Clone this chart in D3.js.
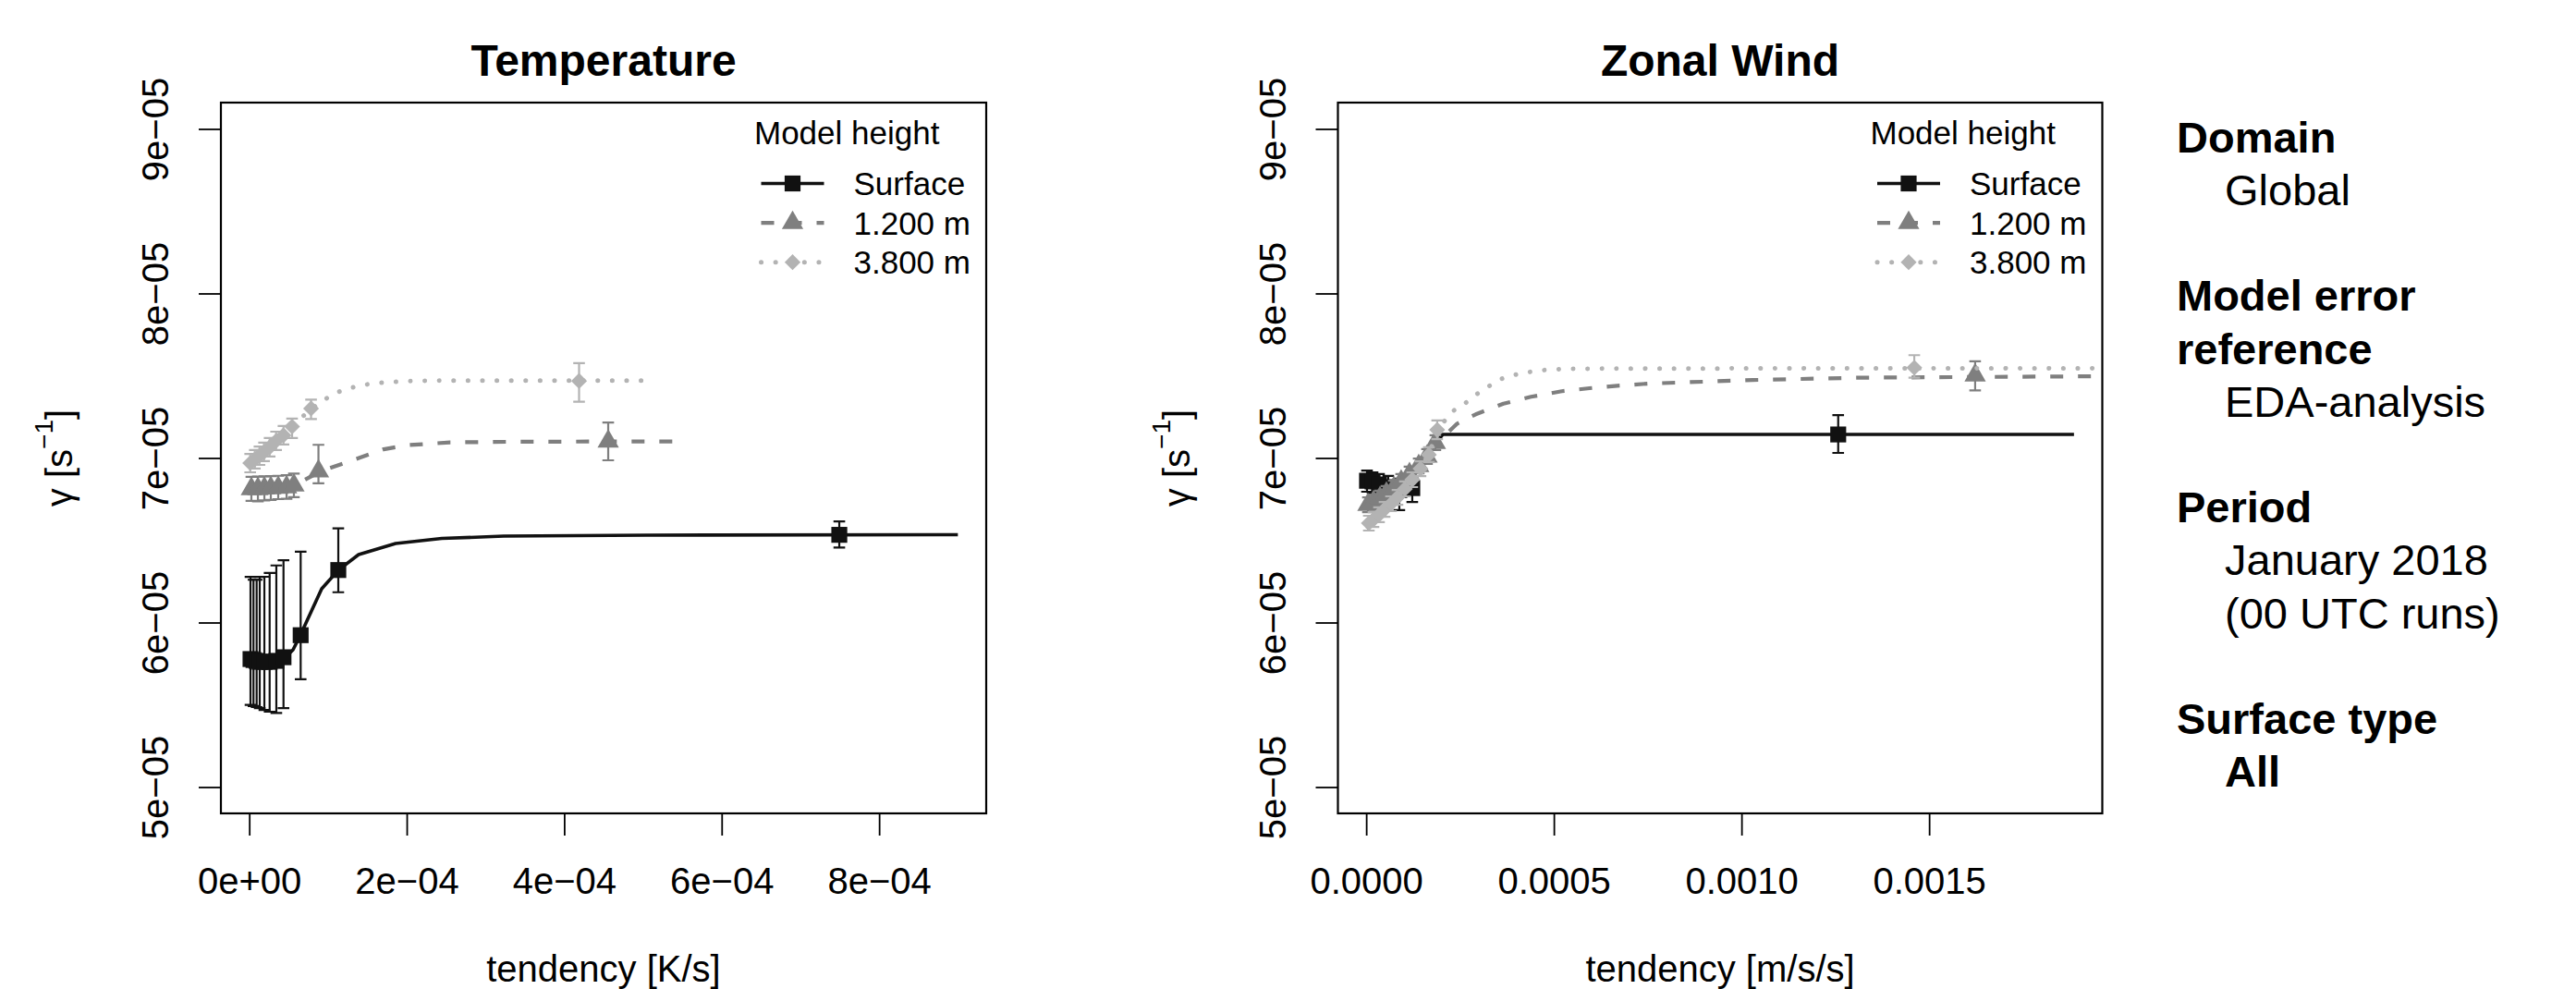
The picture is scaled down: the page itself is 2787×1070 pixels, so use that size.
<!DOCTYPE html>
<html><head><meta charset="utf-8">
<script src="https://cdn.jsdelivr.net/npm/d3@7"></script>
<style>
html,body{margin:0;padding:0;background:#fff;}
svg{display:block;font-family:"Liberation Sans",Arial,Helvetica,sans-serif;}
</style></head><body>
<svg id="chart" width="2787" height="1070"></svg>
<script>
// ---------- axis limits and tick labels ----------
const yLim = [5e-5, 9e-5];
const yTicks = [5e-5, 6e-5, 7e-5, 8e-5, 9e-5];
const yTickLabels = ["5e\u221205", "6e\u221205", "7e\u221205", "8e\u221205", "9e\u221205"];

const tempXLim = [0, 9.0e-4];
const tempXTicks = [0, 2e-4, 4e-4, 6e-4, 8e-4];
const tempXTickLabels = ["0e+00", "2e\u221204", "4e\u221204", "6e\u221204", "8e\u221204"];

const windXLim = [0, 1.886e-3];
const windXTicks = [0, 0.0005, 0.0010, 0.0015];
const windXTickLabels = ["0.0000", "0.0005", "0.0010", "0.0015"];

const heightNames = ["Surface", "1.200 m", "3.800 m"];

// ---------- Temperature: Surface ----------
const tSurfX  = [1.6e-6, 5.4e-6, 9.4e-6, 1.33e-5, 1.92e-5, 2.59e-5, 3.44e-5, 4.35e-5, 6.53e-5, 1.131e-4, 7.494e-4];
const tSurfY  = [5.778e-5, 5.772e-5, 5.767e-5, 5.761e-5, 5.761e-5, 5.761e-5, 5.767e-5, 5.789e-5, 5.923e-5, 6.319e-5, 6.533e-5];
const tSurfLo = [5.499e-5, 5.492e-5, 5.486e-5, 5.480e-5, 5.469e-5, 5.458e-5, 5.450e-5, 5.480e-5, 5.655e-5, 6.184e-5, 6.456e-5];
const tSurfHi = [6.277e-5, 6.260e-5, 6.260e-5, 6.277e-5, 6.278e-5, 6.301e-5, 6.347e-5, 6.379e-5, 6.430e-5, 6.572e-5, 6.614e-5];
const tSurfFitX = [1.6e-6, 4.62e-5, 5.56e-5, 6.5e-5, 9.2e-5, 1.131e-4, 1.389e-4, 1.859e-4, 2.446e-4, 3.232e-4, 5.052e-4, 9.0e-4];
const tSurfFitY = [5.773e-5, 5.789e-5, 5.834e-5, 5.924e-5, 6.205e-5, 6.318e-5, 6.413e-5, 6.480e-5, 6.511e-5, 6.525e-5, 6.531e-5, 6.534e-5];

// ---------- Temperature: 1.200 m ----------
const t12X  = [2.7e-6, 1.10e-5, 1.92e-5, 2.74e-5, 3.68e-5, 4.74e-5, 5.67e-5, 8.79e-5, 4.559e-4];
const t12Y  = [6.812e-5, 6.812e-5, 6.815e-5, 6.817e-5, 6.820e-5, 6.823e-5, 6.834e-5, 6.919e-5, 7.101e-5];
const t12Lo = [6.739e-5, 6.736e-5, 6.742e-5, 6.745e-5, 6.750e-5, 6.752e-5, 6.762e-5, 6.846e-5, 6.986e-5];
const t12Hi = [6.885e-5, 6.887e-5, 6.888e-5, 6.890e-5, 6.892e-5, 6.895e-5, 6.905e-5, 7.080e-5, 7.216e-5];
const t12FitX = [2.7e-6, 5.67e-5, 8.84e-5, 1.002e-4, 1.401e-4, 1.706e-4, 2.011e-4, 2.551e-4, 3.408e-4, 5.451e-4];
const t12FitY = [6.806e-5, 6.832e-5, 6.913e-5, 6.935e-5, 7.001e-5, 7.053e-5, 7.078e-5, 7.095e-5, 7.099e-5, 7.101e-5];

// ---------- Temperature: 3.800 m ----------
const t38X  = [1.2e-6, 7.1e-6, 1.30e-5, 1.88e-5, 2.59e-5, 3.41e-5, 4.35e-5, 5.44e-5, 7.85e-5, 4.189e-4];
const t38Y  = [6.969e-5, 6.992e-5, 7.014e-5, 7.037e-5, 7.065e-5, 7.104e-5, 7.138e-5, 7.191e-5, 7.301e-5, 7.468e-5];
const t38Lo = [6.913e-5, 6.936e-5, 6.958e-5, 6.981e-5, 7.009e-5, 7.048e-5, 7.082e-5, 7.121e-5, 7.237e-5, 7.342e-5];
const t38Hi = [7.025e-5, 7.048e-5, 7.070e-5, 7.093e-5, 7.121e-5, 7.160e-5, 7.194e-5, 7.240e-5, 7.355e-5, 7.576e-5];
const t38FitX = [1.2e-6, 2.59e-5, 5.44e-5, 7.79e-5, 9.43e-5, 1.096e-4, 1.272e-4, 1.436e-4, 1.624e-4, 1.976e-4, 2.516e-4, 5.04e-4];
const t38FitY = [6.964e-5, 7.065e-5, 7.194e-5, 7.295e-5, 7.351e-5, 7.396e-5, 7.424e-5, 7.443e-5, 7.456e-5, 7.467e-5, 7.471e-5, 7.471e-5];

// ---------- Zonal wind: Surface ----------
const wSurfX  = [2.1e-6, 1.69e-5, 3.41e-5, 5.87e-5, 8.82e-5, 1.227e-4, 1.2577e-3];
const wSurfY  = [6.862e-5, 6.857e-5, 6.840e-5, 6.823e-5, 6.806e-5, 6.817e-5, 7.143e-5];
const wSurfLo = [6.795e-5, 6.789e-5, 6.773e-5, 6.750e-5, 6.683e-5, 6.733e-5, 7.031e-5];
const wSurfHi = [6.924e-5, 6.913e-5, 6.902e-5, 6.891e-5, 6.874e-5, 6.874e-5, 7.260e-5];
const wSurfFitX = [2.1e-6, 2.039e-4, 1.886e-3];
const wSurfFitY = [6.570e-5, 7.143e-5, 7.143e-5];

// ---------- Zonal wind: 1.200 m ----------
const w12X  = [4.6e-6, 1.93e-5, 3.66e-5, 5.38e-5, 7.35e-5, 9.31e-5, 1.153e-4, 1.399e-4, 1.620e-4, 1.842e-4, 1.6226e-3];
const w12Y  = [6.716e-5, 6.733e-5, 6.756e-5, 6.784e-5, 6.817e-5, 6.857e-5, 6.902e-5, 6.952e-5, 7.009e-5, 7.093e-5, 7.503e-5];
const w12Lo = [6.671e-5, 6.688e-5, 6.711e-5, 6.739e-5, 6.772e-5, 6.812e-5, 6.857e-5, 6.907e-5, 6.964e-5, 7.048e-5, 7.411e-5];
const w12Hi = [6.761e-5, 6.778e-5, 6.801e-5, 6.829e-5, 6.862e-5, 6.902e-5, 6.947e-5, 6.997e-5, 7.054e-5, 7.138e-5, 7.588e-5];
const w12FitX = [4.6e-6, 9.31e-5, 1.620e-4, 1.842e-4, 2.179e-4, 2.425e-4, 2.917e-4, 3.655e-4, 4.393e-4, 5.213e-4, 5.951e-4, 6.689e-4, 7.508e-4, 1.0296e-3, 1.3123e-3, 1.9582e-3];
const w12FitY = [6.711e-5, 6.857e-5, 7.009e-5, 7.087e-5, 7.155e-5, 7.209e-5, 7.265e-5, 7.330e-5, 7.372e-5, 7.406e-5, 7.424e-5, 7.439e-5, 7.452e-5, 7.474e-5, 7.488e-5, 7.497e-5];

// ---------- Zonal wind: 3.800 m ----------
const w38X  = [7.0e-6, 1.93e-5, 3.41e-5, 4.89e-5, 6.61e-5, 8.33e-5, 1.030e-4, 1.227e-4, 1.446e-4, 1.670e-4, 1.891e-4, 1.4604e-3];
const w38Y  = [6.604e-5, 6.626e-5, 6.655e-5, 6.688e-5, 6.722e-5, 6.761e-5, 6.812e-5, 6.868e-5, 6.935e-5, 7.020e-5, 7.171e-5, 7.549e-5];
const w38Lo = [6.559e-5, 6.581e-5, 6.610e-5, 6.643e-5, 6.677e-5, 6.716e-5, 6.767e-5, 6.823e-5, 6.890e-5, 6.975e-5, 7.115e-5, 7.488e-5];
const w38Hi = [6.649e-5, 6.671e-5, 6.700e-5, 6.733e-5, 6.767e-5, 6.806e-5, 6.857e-5, 6.913e-5, 6.980e-5, 7.065e-5, 7.228e-5, 7.625e-5];
const w38FitX = [7.0e-6, 1.030e-4, 1.670e-4, 1.891e-4, 2.302e-4, 2.629e-4, 2.925e-4, 3.244e-4, 3.564e-4, 3.909e-4, 4.278e-4, 4.647e-4, 5.213e-4, 6.689e-4, 1.9582e-3];
const w38FitY = [6.598e-5, 6.812e-5, 7.020e-5, 7.171e-5, 7.284e-5, 7.331e-5, 7.385e-5, 7.433e-5, 7.478e-5, 7.503e-5, 7.520e-5, 7.533e-5, 7.541e-5, 7.544e-5, 7.545e-5];

// ---------- side panel text ----------
const sideLines = [
  {text: "Domain", bold: true, indent: false, row: 0},
  {text: "Global", bold: false, indent: true, row: 1},
  {text: "Model error", bold: true, indent: false, row: 3},
  {text: "reference", bold: true, indent: false, row: 4},
  {text: "EDA-analysis", bold: false, indent: true, row: 5},
  {text: "Period", bold: true, indent: false, row: 7},
  {text: "January 2018", bold: false, indent: true, row: 8},
  {text: "(00 UTC runs)", bold: false, indent: true, row: 9},
  {text: "Surface type", bold: true, indent: false, row: 11},
  {text: "All", bold: true, indent: true, row: 12}
];

// ---------- styles ----------
const styles = [
  {color: "#111111", dash: null, width: 3.6, cap: "butt", shape: "square"},
  {color: "#7f7f7f", dash: "14,16", width: 4.2, cap: "butt", shape: "triangle"},
  {color: "#b3b3b3", dash: "0.1,15.5", width: 5, cap: "round", shape: "diamond"}
];

function mk(x, y, lo, hi, fx, fy) {
  return {pts: x.map((v, i) => ({x: v, y: y[i], lo: lo[i], hi: hi[i]})),
          fit: fx.map((v, i) => ({x: v, y: fy[i]}))};
}

const panels = [
  {title: "Temperature", xlab: "tendency [K/s]", left: 239, right: 1067,
   xlim: tempXLim, xticks: tempXTicks, xtickLabels: tempXTickLabels,
   series: [mk(tSurfX, tSurfY, tSurfLo, tSurfHi, tSurfFitX, tSurfFitY),
            mk(t12X, t12Y, t12Lo, t12Hi, t12FitX, t12FitY),
            mk(t38X, t38Y, t38Lo, t38Hi, t38FitX, t38FitY)]},
  {title: "Zonal Wind", xlab: "tendency [m/s/s]", left: 1447.5, right: 2274.5,
   xlim: windXLim, xticks: windXTicks, xtickLabels: windXTickLabels,
   series: [mk(wSurfX, wSurfY, wSurfLo, wSurfHi, wSurfFitX, wSurfFitY),
            mk(w12X, w12Y, w12Lo, w12Hi, w12FitX, w12FitY),
            mk(w38X, w38Y, w38Lo, w38Hi, w38FitX, w38FitY)]}
];

const plotTop = 111, plotBottom = 880;
const S = 8.6; // symbol radius

function pad(lim) { const r = lim[1] - lim[0]; return [lim[0] - 0.04 * r, lim[1] + 0.04 * r]; }

function symbolPath(shape, s) {
  if (shape === "square") return `M${-s},${-s}H${s}V${s}H${-s}Z`;
  if (shape === "triangle") return `M0,${-1.5551 * s}L${1.3468 * s},${0.7776 * s}L${-1.3468 * s},${0.7776 * s}Z`;
  return `M0,${-s}L${s},0L0,${s}L${-s},0Z`;
}

const svg = d3.select("#chart");
svg.append("rect").attr("width", 2787).attr("height", 1070).attr("fill", "#fff");

panels.forEach((p, pi) => {
  const x = d3.scaleLinear().domain(pad(p.xlim)).range([p.left, p.right]);
  const y = d3.scaleLinear().domain(pad(yLim)).range([plotBottom, plotTop]);
  const g = svg.append("g");

  const clipId = "clip" + pi;
  svg.append("clipPath").attr("id", clipId).append("rect")
    .attr("x", p.left).attr("y", plotTop).attr("width", p.right - p.left).attr("height", plotBottom - plotTop);

  // title
  g.append("text").attr("x", (p.left + p.right) / 2).attr("y", 81.7)
    .attr("text-anchor", "middle").attr("font-size", 48).attr("font-weight", "bold").text(p.title);

  // x axis
  const xAxis = d3.axisBottom(x).tickValues(p.xticks).tickFormat((d, i) => p.xtickLabels[i]).tickSize(24);
  const gx = g.append("g").attr("transform", `translate(0,${plotBottom})`).call(xAxis);
  gx.select(".domain").remove();
  gx.selectAll(".tick line").attr("stroke", "#000").attr("stroke-width", 1.8);
  gx.selectAll(".tick text").attr("y", 86.7).attr("dy", null).attr("font-size", 40)
    .attr("fill", "#000").attr("font-family", "Liberation Sans, Arial, sans-serif");

  // y axis
  const yAxis = d3.axisLeft(y).tickValues(yTicks).tickFormat((d, i) => yTickLabels[i]).tickSize(24);
  const gy = g.append("g").attr("transform", `translate(${p.left},0)`).call(yAxis);
  gy.select(".domain").remove();
  gy.selectAll(".tick line").attr("stroke", "#000").attr("stroke-width", 1.8);
  gy.selectAll(".tick text").attr("x", 0).attr("y", 0).attr("dy", null)
    .attr("transform", "translate(-57,0) rotate(-90)").attr("text-anchor", "middle")
    .attr("font-size", 40).attr("fill", "#000").attr("font-family", "Liberation Sans, Arial, sans-serif");

  // axis titles
  g.append("text").attr("x", (p.left + p.right) / 2).attr("y", 1061.7)
    .attr("text-anchor", "middle").attr("font-size", 40).text(p.xlab);
  const yl = g.append("text").attr("transform", `translate(${p.left - 161},${(plotTop + plotBottom) / 2}) rotate(-90)`)
    .attr("text-anchor", "middle").attr("font-size", 40);
  yl.append("tspan").text("\u03b3 [s");
  yl.append("tspan").attr("font-size", 28).attr("dy", -21).text("\u22121");
  yl.append("tspan").attr("dy", 21).text("]");

  // series
  const line = d3.line().x(d => x(d.x)).y(d => y(d.y));
  const plotG = g.append("g").attr("clip-path", `url(#${clipId})`);
  p.series.forEach((s, si) => {
    const st = styles[si];
    const sg = plotG.append("g");
    sg.append("path").datum(s.fit).attr("d", line).attr("fill", "none")
      .attr("stroke", st.color).attr("stroke-width", st.width)
      .attr("stroke-dasharray", st.dash).attr("stroke-linecap", st.cap).attr("stroke-linejoin", "round");
    const eb = sg.append("g").attr("stroke", st.color).attr("stroke-width", 2.2).attr("fill", "none");
    eb.selectAll("path").data(s.pts).join("path")
      .attr("d", d => {
        const cx = x(d.x), yl = y(d.lo), yh = y(d.hi), w = 6.3;
        return `M${cx},${yl}V${yh}M${cx - w},${yh}H${cx + w}M${cx - w},${yl}H${cx + w}`;
      });
    sg.selectAll("path.pt").data(s.pts).join("path").attr("class", "pt")
      .attr("transform", d => `translate(${x(d.x)},${y(d.y)})`)
      .attr("d", symbolPath(st.shape, S)).attr("fill", st.color);
  });

  // box
  g.append("rect").attr("x", p.left).attr("y", plotTop).attr("width", p.right - p.left)
    .attr("height", plotBottom - plotTop).attr("fill", "none").attr("stroke", "#000").attr("stroke-width", 2.2);

  // legend
  const lg = g.append("g");
  lg.append("text").attr("x", p.right - 251).attr("y", 156).attr("font-size", 35).text("Model height");
  heightNames.forEach((nm, i) => {
    const st = styles[i];
    const cy = 198.5 + i * 42.6;
    const x0 = p.right - 243.5, x1 = p.right - 175.5;
    lg.append("line").attr("x1", x0).attr("x2", x1).attr("y1", cy).attr("y2", cy)
      .attr("stroke", st.color).attr("stroke-width", st.width)
      .attr("stroke-dasharray", st.dash).attr("stroke-linecap", st.cap);
    lg.append("path").attr("transform", `translate(${(x0 + x1) / 2},${cy})`)
      .attr("d", symbolPath(st.shape, S)).attr("fill", st.color);
    lg.append("text").attr("x", p.right - 143.5).attr("y", cy + 12.5).attr("font-size", 35).text(nm);
  });
});

// side text
const side = svg.append("g");
side.selectAll("text").data(sideLines).join("text")
  .attr("x", d => d.indent ? 2407 : 2355)
  .attr("y", d => 164.7 + d.row * 57.2)
  .attr("font-size", 47)
  .attr("font-weight", d => d.bold ? "bold" : "normal")
  .text(d => d.text);
</script>
</body></html>
